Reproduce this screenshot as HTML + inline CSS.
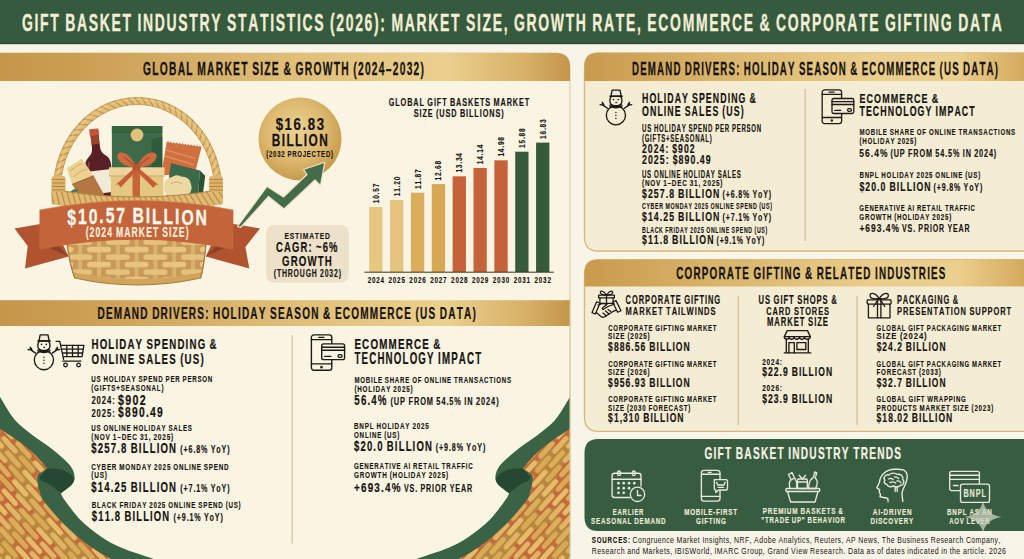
<!DOCTYPE html>
<html><head><meta charset="utf-8"><title>Gift Basket Industry Statistics (2026)</title>
<style>html,body{margin:0;padding:0;background:#f8f4e8;overflow:hidden;}svg{display:block;}
text{font-family:"Liberation Sans",Arial,sans-serif;}</style></head>
<body><svg width="1024" height="559" viewBox="0 0 1024 559">

<defs>
 <linearGradient id="goldband" gradientUnits="userSpaceOnUse" x1="0" x2="570" y1="0" y2="0">
  <stop offset="0" stop-color="#c5964a"/>
  <stop offset="0.15" stop-color="#cc9f55"/>
  <stop offset="0.5" stop-color="#dfbd76"/>
  <stop offset="0.78" stop-color="#ebd08e"/>
  <stop offset="0.92" stop-color="#d8b169"/>
  <stop offset="1" stop-color="#c4954a"/>
 </linearGradient>
 <linearGradient id="goldband2" gradientUnits="userSpaceOnUse" x1="584" x2="1024" y1="0" y2="0">
  <stop offset="0" stop-color="#c99a4e"/>
  <stop offset="0.3" stop-color="#d9b46a"/>
  <stop offset="0.65" stop-color="#eacd8a"/>
  <stop offset="0.85" stop-color="#ebcf8c"/>
  <stop offset="1" stop-color="#d4aa5e"/>
 </linearGradient>
 <radialGradient id="coin" cx="0.45" cy="0.4" r="0.6">
  <stop offset="0" stop-color="#ecd394"/>
  <stop offset="0.6" stop-color="#ddb96f"/>
  <stop offset="1" stop-color="#c69a4c"/>
 </radialGradient>
 <pattern id="weave" width="37.6" height="15" patternUnits="userSpaceOnUse" patternTransform="translate(23.8 245.8)">
  <rect width="37.6" height="15" fill="#c7985a"/>
  <rect x="-2" y="0" width="4" height="15" fill="#d9b36c"/><rect x="16.8" y="0" width="4" height="15" fill="#d9b36c"/><rect x="35.6" y="0" width="4" height="15" fill="#d9b36c"/>
  <rect x="-12" y="1" width="24" height="5.6" rx="2.8" fill="#e8c680"/><rect x="25.6" y="1" width="24" height="5.6" rx="2.8" fill="#e8c680"/>
  <rect x="6.8" y="8.5" width="24" height="5.6" rx="2.8" fill="#e5c27b"/>
 </pattern>
 <pattern id="texture" width="52" height="14" patternUnits="userSpaceOnUse" patternTransform="rotate(48)">
  <rect x="1" y="0.9" width="22" height="5" rx="2.5" fill="#e5bc69"/>
  <rect x="27" y="0.9" width="22" height="5" rx="2.5" fill="#dcae5c"/>
  <rect x="14" y="7.9" width="22" height="5" rx="2.5" fill="#e0b565"/>
  <rect x="40" y="7.9" width="22" height="5" rx="2.5" fill="#d9a956"/>
  <rect x="-12" y="7.9" width="22" height="5" rx="2.5" fill="#d9a956"/>
 </pattern>
</defs>

<rect width="1024" height="559" fill="#f8f4e8"/>
<rect width="1024" height="44" fill="#365a3e"/><rect y="42.6" width="1024" height="1.6" fill="#2c4a33"/>
<text transform="scale(0.5653 1)" x="38.92 61.1 70.93 88.99 107.05 115.4 136.2 157.01 176.46 197.27 216.72 234.77 243.12 252.95 273.76 294.57 315.38 334.83 352.89 373.7 393.14 401.49 420.94 438.99 459.8 477.86 487.69 507.14 525.2 535.03 555.84 575.28 583.63 594.82 611.53 628.24 644.95 661.65 672.85 684.04 692.39 715.94 736.75 757.56 778.36 797.81 815.87 824.22 843.66 853.49 871.55 891 900.83 909.18 931.36 952.17 974.35 1000.64 1018.7 1039.51 1047.86 1068.67 1089.48 1107.53 1126.98 1136.81 1145.16 1164.6 1185.41 1207.6 1231.15 1254.7 1274.14 1294.95 1315.76 1335.21 1343.55 1364.36 1372.71 1393.52 1415.71 1436.52 1455.96 1478.15 1498.96 1519.77 1537.82 1557.27 1565.62 1587.8 1597.63 1615.69 1633.75 1643.58 1664.39 1686.57 1694.92 1715.73 1736.54 1754.6" y="30.70" font-size="24.71" font-weight="bold" fill="#f3eed6" stroke="#f3eed6" stroke-width="0.35">GIFT BASKET INDUSTRY STATISTICS (2026): MARKET SIZE, GROWTH RATE, ECOMMERCE &amp; CORPORATE GIFTING DATA</text>
<path d="M0 53 H556 Q570 53 570 67 V559 H0 Z" fill="#faf4e3"/><path d="M0 53 H556 Q570 53 570 67 V559" fill="none" stroke="#dccaa2" stroke-width="1"/>
<path d="M0 53 H556 Q570 53 570 67 V81 H0 Z" fill="url(#goldband)"/>
<rect x="0" y="300.2" width="570" height="25.8" fill="url(#goldband)"/>
<text transform="scale(0.5661 1)" x="252.59 268.9 282.18 298.49 313.8 329.1 342.37 348.51 365.83 381.13 396.43 411.73 426.03 439.31 445.45 459.74 466.97 480.25 494.55 500.69 515.99 522.13 538.44 553.74 570.05 589.38 602.66 617.96 624.1 632.33 644.61 656.9 669.18 681.47 693.75 706.04 718.32 730.61 742.89" y="75.00" font-size="18.17" font-weight="bold" fill="#16130f" stroke="#16130f" stroke-width="0.26">GLOBAL MARKET SIZE &amp; GROWTH (2024–2032)</text>
<text transform="scale(0.5951 1)" x="163.83 178.03 191.3 207.37 221.57 235.77 249.96 255.66 269.86 284.06 290.77 304.04 317.31 331.5 344.77 352.41 358.11 372.31 387.45 399.77 406.48 420.67 434.87 448.14 453.84 467.11 480.38 494.58 507.85 522.98 537.18 542.88 557.08 562.77 576.04 590.24 605.38 621.45 637.52 650.79 664.99 679.19 692.45 698.15 705.79 719.99 733.26 738.95 753.15 767.35 779.67 793.87" y="319.40" font-size="16.86" font-weight="bold" fill="#16130f" stroke="#16130f" stroke-width="0.24">DEMAND DRIVERS: HOLIDAY SEASON &amp; ECOMMERCE (US DATA)</text>
<path d="M1030 53 H598 Q584.5 53 584.5 67 V237 Q584.5 251 598 251 H1030 Z" fill="#f5ecd4" stroke="#d5b87c" stroke-width="1.3"/>
<path d="M1030 53 H598 Q584.5 53 584.5 67 V81 H1030 Z" fill="url(#goldband2)"/>
<text transform="scale(0.5343 1)" x="1182.8 1198.1 1212.4 1229.72 1245.02 1260.32 1275.62 1281.76 1297.06 1312.36 1319.59 1333.89 1348.19 1363.49 1377.79 1386.02 1392.15 1407.45 1423.77 1437.05 1444.27 1459.57 1474.88 1489.17 1495.31 1509.61 1523.91 1539.21 1553.51 1569.82 1585.12 1591.26 1606.56 1612.7 1627 1642.3 1658.61 1675.93 1693.24 1707.54 1722.84 1738.14 1752.44 1758.58 1766.81 1782.11 1796.41 1802.55 1817.85 1833.15 1846.43 1861.73" y="75.00" font-size="18.17" font-weight="bold" fill="#16130f" stroke="#16130f" stroke-width="0.26">DEMAND DRIVERS: HOLIDAY SEASON &amp; ECOMMERCE (US DATA)</text>
<path d="M1030 259.7 H598 Q584.5 259.7 584.5 273.7 V417.3 Q584.5 431.3 598 431.3 H1030 Z" fill="#f5ecd4" stroke="#d5b87c" stroke-width="1.3"/>
<path d="M1030 259.7 H598 Q584.5 259.7 584.5 273.7 V286.5 H1030 Z" fill="url(#goldband2)"/>
<text transform="scale(0.5710 1)" x="1184.37 1198.94 1214.47 1229.04 1242.65 1258.18 1272.74 1287.31 1299.95 1313.56 1319.41 1334.94 1341.82 1354.46 1367.1 1373.98 1388.55 1404.08 1409.92 1424.49 1430.33 1444.9 1458.51 1471.15 1485.72 1498.36 1511.97 1526.54 1532.38 1539.26 1553.83 1568.39 1582.96 1596.57 1609.21 1623.78 1630.66 1644.27" y="279.40" font-size="17.30" font-weight="bold" fill="#16130f" stroke="#16130f" stroke-width="0.25">CORPORATE GIFTING &amp; RELATED INDUSTRIES</text>
<path d="M1030 439 H598 Q584.5 439 584.5 453 V517 Q584.5 531 598 531 H1030 Z" fill="#385c40"/>
<text transform="scale(0.5964 1)" x="1181.13 1196.4 1203.16 1215.59 1228.02 1233.76 1248.09 1262.41 1275.79 1290.11 1303.5 1315.93 1321.67 1328.44 1342.76 1357.08 1371.4 1384.78 1397.21 1411.53 1424.92 1430.66 1443.09 1457.41 1470.8 1485.12 1499.44" y="458.60" font-size="17.01" font-weight="bold" fill="#f6f3e6" stroke="#f6f3e6" stroke-width="0.24">GIFT BASKET INDUSTRY TRENDS</text>
<text transform="scale(0.6609 1)" x="895.51 902.95 911.43 919.38 927.34 935.3 942.73 950.17" y="543.00" font-size="9.45" font-weight="bold" fill="#16130f" stroke="#16130f" stroke-width="0.13">SOURCES:</text>
<text transform="scale(0.7324 1)" x="863.64 871.02 876.85 882.67 888.49 892.2 898.02 903.84 909.67 914.96 920.78 923.78 932.22 938.04 941.75 947.04 952.86 956.06 959.06 962.25 968.07 973.36 976.03 981.85 987.67 990.86 996.15 999.34 1002.35 1009.74 1017.13 1023.46 1026.66 1029.66 1036.53 1042.35 1048.17 1053.99 1059.81 1062.81 1069.68 1075.5 1081.33 1083.99 1089.28 1092.47 1095.14 1100.43 1105.72 1108.91 1111.92 1119.31 1125.13 1130.95 1134.14 1139.96 1143.67 1148.96 1152.16 1155.16 1162.03 1168.9 1171.9 1179.29 1185.11 1192.5 1197.79 1200.98 1203.98 1210.32 1216.14 1221.96 1224.97 1231.84 1237.66 1242.95 1245.61 1251.43 1257.26 1262.55 1267.84 1270.84 1278.23 1284.05 1289.34 1295.16 1300.98 1304.7 1309.99 1315.81 1318.81 1326.2 1332.02 1340.46 1346.28 1352.1 1357.92 1363.21" y="543.00" font-size="9.45" font-weight="normal" fill="#16130f">Congruence Market Insights, NRF, Adobe Analytics, Reuters, AP News, The Business Research Company,</text>
<text transform="scale(0.7390 1)" x="800.83 808.22 814.04 819.33 825.15 830.97 834.68 839.98 845.8 848.8 854.62 860.44 866.26 869.27 877.7 883.52 887.24 892.53 898.35 901.54 906.83 910.02 913.03 916.22 923.09 926.28 933.15 942.63 948.45 952.16 954.83 960.65 963.84 966.85 970.04 978.47 985.34 992.73 1000.12 1003.13 1011.04 1014.75 1020.58 1026.4 1032.22 1035.41 1038.41 1046.33 1050.04 1055.86 1061.68 1067.5 1070.51 1077.38 1080.04 1085.86 1093.25 1096.26 1103.65 1109.47 1114.76 1120.58 1126.4 1130.11 1135.4 1141.22 1144.42 1147.42 1154.81 1160.63 1163.82 1169.64 1172.65 1178.47 1183.76 1186.76 1192.58 1195.77 1198.78 1204.6 1210.42 1213.61 1219.43 1224.72 1227.72 1230.39 1236.21 1242.03 1244.7 1249.99 1255.81 1259 1264.82 1270.65 1273.65 1276.31 1282.13 1285.14 1288.33 1294.15 1299.97 1302.97 1308.8 1312.51 1315.7 1318.37 1323.66 1326.32 1332.14 1335.34 1338.34 1344.16 1349.98 1355.8" y="553.60" font-size="9.45" font-weight="normal" fill="#16130f">Research and Markets, IBISWorld, IMARC Group, Grand View Research. Data as of dates indicated in the article. 2026</text>
<path d="M57 190 A80.5 89 0 0 1 218 190" fill="none" stroke="#c9984e" stroke-width="8"/>
<path d="M57 190 A80.5 89 0 0 1 218 190" fill="none" stroke="#e2bf78" stroke-width="6.4"/>
<path d="M53.7 192.8L60.3 187.2 M53.8 185.2L60.8 180.1 M54.4 177.6L61.8 173.1 M55.6 170.1L63.3 166.2 M57.4 162.8L65.3 159.4 M59.7 155.6L67.9 152.9 M62.5 148.7L70.9 146.6 M65.8 142.1L74.4 140.6 M69.7 135.7L78.3 134.9 M73.9 129.8L82.6 129.7 M78.7 124.2L87.3 124.8 M83.8 119.1L92.3 120.4 M89.3 114.5L97.7 116.5 M95.1 110.3L103.3 113.1 M101.2 106.7L109.1 110.2 M107.6 103.7L115.2 107.9 M114.2 101.3L121.3 106.1 M120.9 99.5L127.6 105.0 M127.8 98.3L133.9 104.3 M134.7 97.7L140.3 104.3 M141.7 97.8L146.6 104.8 M148.6 98.5L152.9 106.0 M155.5 99.8L159.1 107.7 M162.2 101.7L165.1 109.9 M168.8 104.3L170.9 112.7 M175.1 107.5L176.5 116.0 M181.2 111.2L181.9 119.8 M187.0 115.4L186.9 124.1 M192.4 120.2L191.6 128.8 M197.5 125.5L196.0 134.0 M202.1 131.1L199.9 139.5 M206.3 137.2L203.5 145.4 M210.0 143.7L206.6 151.6 M213.3 150.4L209.2 158.1 M216.0 157.4L211.3 164.8 M218.1 164.7L212.9 171.6 M219.7 172.1L214.1 178.6 M220.8 179.6L214.6 185.7 M221.3 187.2L214.7 192.8" stroke="#c29050" stroke-width="1.2" fill="none" stroke-linecap="round"/>
<path d="M57 190 A80.5 89 0 0 1 218 190" fill="none" stroke="#f0d898" stroke-width="1.2" opacity="0.5" transform="translate(0 -1.5)"/>
<g transform="rotate(-7 98 163.5)"><path d="M94 135 h8 v12 q0 6 4.8 9.5 q4 3 4 9 V201 H85.2 V165.5 q0 -6 4 -9 q4.8 -3.5 4.8 -9.5 z" fill="#5a2028"/><rect x="93.3" y="128.6" width="9.4" height="7" rx="1" fill="#c0553a"/><rect x="94" y="135.5" width="8" height="8.5" fill="#9f432f"/><path d="M89.5 161 q-1.8 3 -1.8 9" stroke="#8a4a4c" stroke-width="1.5" fill="none"/><rect x="86.5" y="170.5" width="24" height="23" fill="#f3ebd9"/></g>
<path d="M66.8 168.3 L81.8 158.7 L93.6 175.8 L72.2 184.4 Z" fill="#ecd291"/>
<path d="M72.2 184.4 L93.6 175.8 L104.4 195.2 L79.7 197.3 Z" fill="#b37743"/>
<path d="M70.5 171 Q77 165 82 163.5 M73.5 177 Q80 171 86.5 169" stroke="#d6b26a" stroke-width="1.2" fill="none"/>
<path d="M72.2 184.4 L93.6 175.8" stroke="#9b5f31" stroke-width="1"/>
<path d="M70 192 q4 -5 9 -2 q-3 5 -9 2z" fill="#4f7a4f"/>
<path d="M111.9 126 h50.4 v72 h-50.4z" fill="#3d6b49"/>
<path d="M111.9 126 h50.4 v6.5 h-50.4z" fill="#37633f"/>
<path d="M111.9 132.5 h50.4" stroke="#2d5437" stroke-width="0.8"/>
<path d="M151.6 139.4 l10.7 -3 v62 h-10.7z" fill="#2f5a3b"/>
<circle cx="137" cy="135" r="6.4" fill="#e3c177"/>
<path d="M166.6 142.6 l1.45 -1.5 l1.45 1.9 l1.45 -1.5 l1.45 1.9 l1.45 -1.5 l1.45 1.9 l1.45 -1.5 l1.45 1.9 l1.45 -1.5 l1.45 1.9 l1.45 -1.5 l1.45 1.9 l1.45 -1.5 l1.45 1.9 l1.45 -1.5 l1.45 1.9 l1.45 -1.5 l1.45 1.9 l1.45 -1.5 l1.45 1.9 l1.45 -1.5 l1.45 1.9 l1.45 -1.5 l1.45 1.9 L194.5 175 L161.2 175 Z" fill="#cf703e"/>
<path d="M166 150 L195 158.5 M164.6 156 L193.6 164.5" stroke="#e49a66" stroke-width="1.2" fill="none"/>
<path d="M170.9 163 L199.9 170.5 L198 196 L166.6 196 Z" fill="#3c6a48"/>
<path d="M199.9 170.5 L205.2 175.8 L203.1 193 L198 196 Z" fill="#2b5235"/>
<path d="M164 187 q0 -9 8 -10 q4 -3 9 -0.5 q9 0 10 8 q2 5 -2 9.5 q-3 4 -9 3.5 q-4 2 -8 -0.5 q-8 -1 -8 -9.5 z" fill="#ecd8a2"/>
<path d="M170.5 184 q6 -4 12 0" stroke="#cdb06e" stroke-width="1" fill="none"/>
<rect x="110.8" y="175.8" width="52.6" height="24" fill="#e5c784"/>
<rect x="109" y="167.3" width="55.5" height="8.8" fill="#edd49a"/>
<path d="M109 176 h55.5" stroke="#caa862" stroke-width="1"/>
<rect x="132.5" y="167.3" width="7.5" height="32.5" fill="#c8643a"/>
<path d="M136.5 167 C128 148 114 150 118.3 159 C120.5 164 128 167.5 136.5 167 Z" fill="#cd6b3e"/>
<path d="M136.5 167 C145 148 160 150 155.9 159 C153.5 164 146 167.5 136.5 167 Z" fill="#cd6b3e"/>
<path d="M124 157 Q129 161 134.5 165.5 M149.5 157 Q144.5 161 138.5 165.5" stroke="#a94f2c" stroke-width="1.3" fill="none"/>
<path d="M135 167.5 L115 185.5 L118 184 L120.5 187.5 L136.5 171 Z M138 167.5 L159 185.5 L156 184.5 L153.5 188 L136.5 171 Z" fill="#c45d35"/>
<ellipse cx="136.5" cy="167.3" rx="4" ry="3.3" fill="#b9532f"/>
<path d="M61 204 H214 L206 244 Q204 270 200.6 276 Q137 290 74.8 276 Q70 266 67 244 Z" fill="#c0904b"/>
<path d="M61 204 H214 L206 244 Q204 270 200.6 276 Q137 290 74.8 276 Q70 266 67 244 Z" fill="url(#weave)"/>
<path d="M72 272 Q137 286 203 272 L200.6 278 Q137 292 74.8 278 Z" fill="#d2a55c"/>
<path d="M67 244 Q70 266 74.8 278 Q137 292 200.6 278 Q204 266 206 244" fill="none" stroke="#a8783a" stroke-width="1.2"/>
<path d="M51.5 189 Q137 205 223 189 L223 204 Q137 218 51.5 204 Z" fill="#dfbb72"/>
<clipPath id="rimc"><path d="M51.5 189 Q137 205 223 189 L223 204 Q137 218 51.5 204 Z"/></clipPath>
<g clip-path="url(#rimc)"><path d="M50.0 188.0L54.0 205.0 M55.6 189.0L59.8 206.0 M61.1 190.0L65.5 206.9 M66.7 190.9L71.3 207.7 M72.3 191.7L77.1 208.5 M77.8 192.4L82.8 209.2 M83.4 193.1L88.6 209.8 M89.0 193.7L94.4 210.3 M94.5 194.3L100.1 210.8 M100.1 194.8L105.9 211.2 M105.7 195.2L111.7 211.6 M111.2 195.5L117.4 211.9 M116.8 195.8L123.2 212.1 M122.4 196.0L129.0 212.2 M127.9 196.2L134.7 212.3 M133.5 196.2L140.5 212.2 M139.1 196.3L146.3 212.2 M144.6 196.2L152.0 212.0 M150.2 196.1L157.8 211.8 M155.8 195.9L163.6 211.5 M161.4 195.6L169.3 211.2 M166.9 195.3L175.1 210.7 M172.5 194.9L180.8 210.2 M178.1 194.4L186.6 209.7 M183.7 193.9L192.3 209.0 M189.2 193.3L198.1 208.3 M194.8 192.6L203.9 207.5 M200.4 191.9L209.6 206.7 M206.0 191.1L215.4 205.8 M211.5 190.2L221.1 204.8 M217.1 189.3L226.9 203.7" stroke="#c08e4c" stroke-width="1.3" fill="none" stroke-linecap="round"/></g>
<path d="M51.5 189 Q137 205 223 189" fill="none" stroke="#b3843f" stroke-width="1"/>
<rect x="51.5" y="176" width="14" height="16" rx="3" fill="#dcb46b"/><path d="M52 179.5 h13 M52 183 h13 M52 186.5 h13 M52 190 h13" stroke="#b3843d" stroke-width="1.1"/>
<rect x="209" y="176" width="14" height="16" rx="3" fill="#dcb46b"/><path d="M209.5 179.5 h13 M209.5 183 h13 M209.5 186.5 h13 M209.5 190 h13" stroke="#b3843d" stroke-width="1.1"/>
<path d="M14.5 228.5 L52 222 L68.6 256.5 L25 268.4 L27.7 246 Z" fill="#b0542f"/>
<path d="M45 246 L68.6 256.5 L52 240 Z" fill="#8f4026"/>
<path d="M260 228.5 L222 222 L205.8 256.5 L249.3 268.4 L245.4 247 Z" fill="#b0542f"/>
<path d="M229 246 L205.8 256.5 L222 240 Z" fill="#8f4026"/>
<path d="M39.5 210 Q137 191 233.3 210 L233.3 249.5 Q137 230 39.5 249.5 Z" fill="#c4643a"/>
<path d="M39.5 210 Q137 191 233.3 210" fill="none" stroke="#d77f52" stroke-width="1" opacity="0.6"/>
<text transform="scale(0.6973 1)" x="96.52 111.85 127.18 142.51 151.53 166.86 182.19 189.85 208.95 217.97 234.54 251.11 260.13 280.49" y="224.59 224.12 223.75 223.48 223.36 223.25 223.23 223.26 223.43 223.57 223.91 224.36 224.65 225.44" font-size="22.67" font-weight="bold" fill="#fdf8ee" stroke="#fdf8ee" stroke-width="0.32">$10.57 BILLION</text>
<text transform="scale(0.6026 1)" x="142.21 148.73 158.46 168.19 177.92 187.65 192.51 206.22 218.34 230.46 242.58 253.9 264.42 269.28 280.6 286.33 296.84 308.17" y="237.40" font-size="14.39" font-weight="bold" fill="#f8eedb" stroke="#f8eedb" stroke-width="0.21">(2024 MARKET SIZE)</text>
<circle cx="300" cy="139" r="41.5" fill="url(#coin)"/>
<text transform="scale(0.8038 1)" x="342.99 354.09 365.2 376.3 382.84 393.94" y="129.80" font-size="16.42" font-weight="bold" fill="#16130f" stroke="#16130f" stroke-width="0.23">$16.83</text>
<text transform="scale(0.6919 1)" x="392.71 407.16 413.98 426.52 439.05 445.87 461.27" y="146.30" font-size="17.15" font-weight="bold" fill="#16130f" stroke="#16130f" stroke-width="0.25">BILLION</text>
<text transform="scale(0.6406 1)" x="415.7 419.98 426.37 432.76 439.15 445.54 448.73 456.16 464.12 472.6 478.99 486.43 494.38 501.29 508.72 516.68" y="156.70" font-size="9.45" font-weight="bold" fill="#16130f" stroke="#16130f" stroke-width="0.13">(2032 PROJECTED)</text>
<path d="M237.5 226.5 L267 186.5 L283.5 197 L307 174.5 L303.5 169.5 L324.8 162.3 L320.5 185.5 L315 180 L284 209 L268.5 196.5 L240.5 227.5 Z" fill="#446c4a" stroke="#efe4c2" stroke-width="1.2" stroke-linejoin="round"/>
<rect x="266" y="225" width="82.8" height="57.5" rx="8" fill="#ede2c9"/>
<text transform="scale(0.6832 1)" x="416.39 424.17 431.95 439.17 443.11 452.52 460.85 468.07 475.85" y="238.80" font-size="9.88" font-weight="bold" fill="#16130f" stroke="#16130f" stroke-width="0.14">ESTIMATED</text>
<text transform="scale(0.6525 1)" x="422.97 435.21 447.45 460.5 472.74 479.33 484.24 494.47 504.3" y="252.50" font-size="14.53" font-weight="bold" fill="#16130f" stroke="#16130f" stroke-width="0.21">CAGR: ~6%</text>
<text transform="scale(0.6647 1)" x="424.25 437.3 449.54 462.59 478.05 488.67" y="266.00" font-size="14.53" font-weight="bold" fill="#16130f" stroke="#16130f" stroke-width="0.21">GROWTH</text>
<text transform="scale(0.6513 1)" x="420.37 425.17 432.93 441.86 450.8 460.33 469.26 478.79 487.72 491.31 498.48 505.66 512.83 520.01" y="277.00" font-size="10.61" font-weight="bold" fill="#16130f" stroke="#16130f" stroke-width="0.15">(THROUGH 2032)</text>
<text transform="scale(0.6452 1)" x="602.47 612.65 620.93 631.11 640.66 650.21 658.5 662.33 672.5 677.01 685.3 693.59 697.42 706.96 716.51 725.43 734.98 743.9 752.19 761.11 764.94 775.75 785.29 794.84 804.39 813.31" y="106.10" font-size="11.34" font-weight="bold" fill="#16130f" stroke="#16130f" stroke-width="0.16">GLOBAL GIFT BASKETS MARKET</text>
<text transform="scale(0.6467 1)" x="639.74 648.66 653.17 661.45 670.38 674.21 679.34 688.89 697.81 707.36 711.19 720.74 725.25 733.53 741.82 746.33 756.51 766.06 774.98" y="117.40" font-size="11.34" font-weight="bold" fill="#16130f" stroke="#16130f" stroke-width="0.16">SIZE (USD BILLIONS)</text>
<rect x="369.20" y="207" width="13.3" height="65.00" fill="#e7c67f"/>
<text transform="translate(378.85,203.30) rotate(-90) scale(0.7536 1)" x="0 5.9 11.79 15.26 21.16" y="0" font-size="8.72" font-weight="bold" fill="#16130f" stroke="#16130f" stroke-width="0.12">10.57</text>
<text transform="scale(0.7157 1)" x="513.69 519.69 525.68 531.68" y="283.40" font-size="8.87" font-weight="bold" fill="#16130f" stroke="#16130f" stroke-width="0.13">2024</text>
<rect x="390.06" y="200" width="13.3" height="72.00" fill="#e6c47d"/>
<text transform="translate(399.71,196.30) rotate(-90) scale(0.7536 1)" x="0 5.9 11.79 15.26 21.16" y="0" font-size="8.72" font-weight="bold" fill="#16130f" stroke="#16130f" stroke-width="0.12">11.20</text>
<text transform="scale(0.7157 1)" x="542.84 548.83 554.83 560.82" y="283.40" font-size="8.87" font-weight="bold" fill="#16130f" stroke="#16130f" stroke-width="0.13">2025</text>
<rect x="410.92" y="192.7" width="13.3" height="79.30" fill="#d9ad5c"/>
<text transform="translate(420.57,189.00) rotate(-90) scale(0.7536 1)" x="0 5.9 11.79 15.26 21.16" y="0" font-size="8.72" font-weight="bold" fill="#16130f" stroke="#16130f" stroke-width="0.12">11.87</text>
<text transform="scale(0.7157 1)" x="571.99 577.98 583.98 589.97" y="283.40" font-size="8.87" font-weight="bold" fill="#16130f" stroke="#16130f" stroke-width="0.13">2026</text>
<rect x="431.78" y="184.1" width="13.3" height="87.90" fill="#d7a853"/>
<text transform="translate(441.43,180.40) rotate(-90) scale(0.7536 1)" x="0 5.9 11.79 15.26 21.16" y="0" font-size="8.72" font-weight="bold" fill="#16130f" stroke="#16130f" stroke-width="0.12">12.68</text>
<text transform="scale(0.7157 1)" x="601.13 607.13 613.12 619.12" y="283.40" font-size="8.87" font-weight="bold" fill="#16130f" stroke="#16130f" stroke-width="0.13">2027</text>
<rect x="452.64" y="176.3" width="13.3" height="95.70" fill="#c6623a"/>
<text transform="translate(462.29,172.60) rotate(-90) scale(0.7536 1)" x="0 5.9 11.79 15.26 21.16" y="0" font-size="8.72" font-weight="bold" fill="#16130f" stroke="#16130f" stroke-width="0.12">13.34</text>
<text transform="scale(0.7157 1)" x="630.28 636.27 642.27 648.26" y="283.40" font-size="8.87" font-weight="bold" fill="#16130f" stroke="#16130f" stroke-width="0.13">2028</text>
<rect x="473.50" y="168" width="13.3" height="104.00" fill="#c6623a"/>
<text transform="translate(483.15,164.30) rotate(-90) scale(0.7536 1)" x="0 5.9 11.79 15.26 21.16" y="0" font-size="8.72" font-weight="bold" fill="#16130f" stroke="#16130f" stroke-width="0.12">14.14</text>
<text transform="scale(0.7157 1)" x="659.42 665.42 671.41 677.41" y="283.40" font-size="8.87" font-weight="bold" fill="#16130f" stroke="#16130f" stroke-width="0.13">2029</text>
<rect x="494.36" y="160.3" width="13.3" height="111.70" fill="#c6623a"/>
<text transform="translate(504.01,156.60) rotate(-90) scale(0.7536 1)" x="0 5.9 11.79 15.26 21.16" y="0" font-size="8.72" font-weight="bold" fill="#16130f" stroke="#16130f" stroke-width="0.12">14.98</text>
<text transform="scale(0.7157 1)" x="688.57 694.57 700.56 706.56" y="283.40" font-size="8.87" font-weight="bold" fill="#16130f" stroke="#16130f" stroke-width="0.13">2030</text>
<rect x="515.22" y="151.7" width="13.3" height="120.30" fill="#355a3c"/>
<text transform="translate(524.87,148.00) rotate(-90) scale(0.7536 1)" x="0 5.9 11.79 15.26 21.16" y="0" font-size="8.72" font-weight="bold" fill="#16130f" stroke="#16130f" stroke-width="0.12">15.88</text>
<text transform="scale(0.7157 1)" x="717.72 723.71 729.71 735.7" y="283.40" font-size="8.87" font-weight="bold" fill="#16130f" stroke="#16130f" stroke-width="0.13">2031</text>
<rect x="536.08" y="142.6" width="13.3" height="129.40" fill="#355a3c"/>
<text transform="translate(545.73,138.90) rotate(-90) scale(0.7536 1)" x="0 5.9 11.79 15.26 21.16" y="0" font-size="8.72" font-weight="bold" fill="#16130f" stroke="#16130f" stroke-width="0.12">16.83</text>
<text transform="scale(0.7157 1)" x="746.86 752.86 758.85 764.85" y="283.40" font-size="8.87" font-weight="bold" fill="#16130f" stroke="#16130f" stroke-width="0.13">2032</text>
<path d="M364.5 272.2 H553.8" stroke="#3a3328" stroke-width="1"/>
<clipPath id="lc"><rect x="0" y="300" width="570" height="259"/></clipPath>
<g clip-path="url(#lc)"><path d="M0.0 428.7 C2.5 430.4 9.9 435.1 14.9 438.6 C19.9 442.1 25.4 446.1 29.8 449.8 C34.1 453.5 38.1 457.9 41.0 461.0 C43.9 464.1 47.0 466.6 47.2 468.4 C47.4 470.2 43.6 470.6 42.0 472.0 C40.4 473.4 37.7 473.8 37.3 477.1 C36.9 480.4 38.7 488.0 39.8 492.0 C40.9 496.0 40.5 496.2 44.0 501.0 C47.5 505.8 54.3 514.1 60.5 520.5 C66.7 526.9 74.6 534.4 81.0 539.6 C87.4 544.9 93.8 548.8 98.8 552.0 C103.8 555.2 109.0 557.8 111.1 559.0 L0 559 Z" fill="#b8873f"/><path d="M0 455 C15 470 22 495 12 520 L0 528 Z" fill="#c4673a" opacity="0.9"/><path d="M10 540 C30 532 55 545 62 559 L20 559 Z" fill="#c4673a" opacity="0.85"/><path d="M0 486 C10 490 28 500 34 512 L26 518 C18 508 8 500 0 498 Z" fill="#c4673a"/><path d="M20 522 C35 528 50 538 58 548 L50 552 C42 542 30 534 18 530 Z" fill="#c4673a"/><path d="M0.0 428.7 C2.5 430.4 9.9 435.1 14.9 438.6 C19.9 442.1 25.4 446.1 29.8 449.8 C34.1 453.5 38.1 457.9 41.0 461.0 C43.9 464.1 47.0 466.6 47.2 468.4 C47.4 470.2 43.6 470.6 42.0 472.0 C40.4 473.4 37.7 473.8 37.3 477.1 C36.9 480.4 38.7 488.0 39.8 492.0 C40.9 496.0 40.5 496.2 44.0 501.0 C47.5 505.8 54.3 514.1 60.5 520.5 C66.7 526.9 74.6 534.4 81.0 539.6 C87.4 544.9 93.8 548.8 98.8 552.0 C103.8 555.2 109.0 557.8 111.1 559.0" fill="none" stroke="#c3673a" stroke-width="12" opacity="0.9"/><path d="M0.0 428.7 C2.5 430.4 9.9 435.1 14.9 438.6 C19.9 442.1 25.4 446.1 29.8 449.8 C34.1 453.5 38.1 457.9 41.0 461.0 C43.9 464.1 47.0 466.6 47.2 468.4 C47.4 470.2 43.6 470.6 42.0 472.0 C40.4 473.4 37.7 473.8 37.3 477.1 C36.9 480.4 38.7 488.0 39.8 492.0 C40.9 496.0 40.5 496.2 44.0 501.0 C47.5 505.8 54.3 514.1 60.5 520.5 C66.7 526.9 74.6 534.4 81.0 539.6 C87.4 544.9 93.8 548.8 98.8 552.0 C103.8 555.2 109.0 557.8 111.1 559.0 L0 559 Z" fill="url(#texture)"/><path d="M0.0 397.0 C2.5 400.8 9.5 413.7 14.9 420.0 C20.3 426.3 26.5 430.3 32.3 434.9 C38.1 439.4 44.3 443.1 49.7 447.3 C55.1 451.5 60.9 456.3 64.6 459.8 C68.3 463.3 70.3 465.7 72.0 468.4 C73.7 471.1 74.3 473.6 74.5 475.9 C74.7 478.2 74.7 479.9 73.3 482.1 C71.9 484.3 68.1 487.1 66.0 489.0 C63.9 490.9 61.8 492.6 60.9 493.3 C61.5 494.4 61.2 495.5 64.6 500.0 C67.9 504.5 74.8 514.4 81.0 520.5 C87.2 526.6 94.7 532.3 101.5 536.9 C108.3 541.5 114.0 544.5 122.0 547.9 C130.0 551.3 144.2 555.5 149.4 557.4 C154.7 559.2 152.8 558.7 153.5 559.0 L111.1 559 C109.0 557.8 103.8 555.2 98.8 552.0 C93.8 548.8 87.4 544.9 81.0 539.6 C74.6 534.4 66.7 526.9 60.5 520.5 C54.3 514.1 47.5 505.8 44.0 501.0 C40.5 496.2 40.9 496.0 39.8 492.0 C38.7 488.0 36.9 480.4 37.3 477.1 C37.7 473.8 40.4 473.4 42.0 472.0 C43.6 470.6 46.3 469.0 47.2 468.4 C46.2 467.2 43.9 464.1 41.0 461.0 C38.1 457.9 34.1 453.5 29.8 449.8 C25.4 446.1 19.9 442.1 14.9 438.6 C9.9 435.1 2.5 430.4 0.0 428.7 Z" fill="#3a6345"/><path d="M47.2 468.4 C49.7 468.6 57.8 468.2 62.1 469.7 C66.5 471.1 71.6 474.6 73.3 477.1 C75.0 479.6 74.1 481.9 72.0 484.6 C69.9 487.3 62.8 491.9 60.9 493.3 C59.0 491.9 53.2 487.1 49.7 484.6 C46.2 482.1 40.2 481.1 39.8 478.4 C39.4 475.7 46.0 470.1 47.2 468.4 Z" fill="#264832"/><g transform="translate(570 0) scale(-1 1)"><path d="M0.0 428.7 C2.5 430.4 9.9 435.1 14.9 438.6 C19.9 442.1 25.4 446.1 29.8 449.8 C34.1 453.5 38.1 457.9 41.0 461.0 C43.9 464.1 47.0 466.6 47.2 468.4 C47.4 470.2 43.6 470.6 42.0 472.0 C40.4 473.4 37.7 473.8 37.3 477.1 C36.9 480.4 38.7 488.0 39.8 492.0 C40.9 496.0 40.5 496.2 44.0 501.0 C47.5 505.8 54.3 514.1 60.5 520.5 C66.7 526.9 74.6 534.4 81.0 539.6 C87.4 544.9 93.8 548.8 98.8 552.0 C103.8 555.2 109.0 557.8 111.1 559.0 L0 559 Z" fill="#b8873f"/><path d="M0 455 C15 470 22 495 12 520 L0 528 Z" fill="#c4673a" opacity="0.9"/><path d="M10 540 C30 532 55 545 62 559 L20 559 Z" fill="#c4673a" opacity="0.85"/><path d="M0 486 C10 490 28 500 34 512 L26 518 C18 508 8 500 0 498 Z" fill="#c4673a"/><path d="M20 522 C35 528 50 538 58 548 L50 552 C42 542 30 534 18 530 Z" fill="#c4673a"/><path d="M0.0 428.7 C2.5 430.4 9.9 435.1 14.9 438.6 C19.9 442.1 25.4 446.1 29.8 449.8 C34.1 453.5 38.1 457.9 41.0 461.0 C43.9 464.1 47.0 466.6 47.2 468.4 C47.4 470.2 43.6 470.6 42.0 472.0 C40.4 473.4 37.7 473.8 37.3 477.1 C36.9 480.4 38.7 488.0 39.8 492.0 C40.9 496.0 40.5 496.2 44.0 501.0 C47.5 505.8 54.3 514.1 60.5 520.5 C66.7 526.9 74.6 534.4 81.0 539.6 C87.4 544.9 93.8 548.8 98.8 552.0 C103.8 555.2 109.0 557.8 111.1 559.0" fill="none" stroke="#c3673a" stroke-width="12" opacity="0.9"/><path d="M0.0 428.7 C2.5 430.4 9.9 435.1 14.9 438.6 C19.9 442.1 25.4 446.1 29.8 449.8 C34.1 453.5 38.1 457.9 41.0 461.0 C43.9 464.1 47.0 466.6 47.2 468.4 C47.4 470.2 43.6 470.6 42.0 472.0 C40.4 473.4 37.7 473.8 37.3 477.1 C36.9 480.4 38.7 488.0 39.8 492.0 C40.9 496.0 40.5 496.2 44.0 501.0 C47.5 505.8 54.3 514.1 60.5 520.5 C66.7 526.9 74.6 534.4 81.0 539.6 C87.4 544.9 93.8 548.8 98.8 552.0 C103.8 555.2 109.0 557.8 111.1 559.0 L0 559 Z" fill="url(#texture)"/><path d="M0.0 397.0 C2.5 400.8 9.5 413.7 14.9 420.0 C20.3 426.3 26.5 430.3 32.3 434.9 C38.1 439.4 44.3 443.1 49.7 447.3 C55.1 451.5 60.9 456.3 64.6 459.8 C68.3 463.3 70.3 465.7 72.0 468.4 C73.7 471.1 74.3 473.6 74.5 475.9 C74.7 478.2 74.7 479.9 73.3 482.1 C71.9 484.3 68.1 487.1 66.0 489.0 C63.9 490.9 61.8 492.6 60.9 493.3 C61.5 494.4 61.2 495.5 64.6 500.0 C67.9 504.5 74.8 514.4 81.0 520.5 C87.2 526.6 94.7 532.3 101.5 536.9 C108.3 541.5 114.0 544.5 122.0 547.9 C130.0 551.3 144.2 555.5 149.4 557.4 C154.7 559.2 152.8 558.7 153.5 559.0 L111.1 559 C109.0 557.8 103.8 555.2 98.8 552.0 C93.8 548.8 87.4 544.9 81.0 539.6 C74.6 534.4 66.7 526.9 60.5 520.5 C54.3 514.1 47.5 505.8 44.0 501.0 C40.5 496.2 40.9 496.0 39.8 492.0 C38.7 488.0 36.9 480.4 37.3 477.1 C37.7 473.8 40.4 473.4 42.0 472.0 C43.6 470.6 46.3 469.0 47.2 468.4 C46.2 467.2 43.9 464.1 41.0 461.0 C38.1 457.9 34.1 453.5 29.8 449.8 C25.4 446.1 19.9 442.1 14.9 438.6 C9.9 435.1 2.5 430.4 0.0 428.7 Z" fill="#3a6345"/><path d="M47.2 468.4 C49.7 468.6 57.8 468.2 62.1 469.7 C66.5 471.1 71.6 474.6 73.3 477.1 C75.0 479.6 74.1 481.9 72.0 484.6 C69.9 487.3 62.8 491.9 60.9 493.3 C59.0 491.9 53.2 487.1 49.7 484.6 C46.2 482.1 40.2 481.1 39.8 478.4 C39.4 475.7 46.0 470.1 47.2 468.4 Z" fill="#264832"/></g></g>
<path d="M292.2 335 V543.4" stroke="#d2bf96" stroke-width="1.2"/>
<text transform="scale(0.6661 1)" x="137.36 149.6 162.65 173.28 179.06 191.3 203.54 214.98 219.89 231.33 242.77 254.21 266.45 278.69 284.47 296.71 309.76 314.67" y="349.10" font-size="14.53" font-weight="bold" fill="#16130f" stroke="#16130f" stroke-width="0.21">HOLIDAY SPENDING &amp;</text>
<text transform="scale(0.6442 1)" x="142.05 155.62 168.35 179.4 185.41 198.14 210.04 215.14 227.04 239.77 250.82 262.71 274.61 279.72 286.57 299.3 311.19" y="363.70" font-size="15.12" font-weight="bold" fill="#16130f" stroke="#16130f" stroke-width="0.22">ONLINE SALES (US)</text>
<text transform="scale(0.6533 1)" x="139.76 147.71 155.15 158.34 166.3 174.78 181.69 185.44 193.4 201.36 208.79 211.98 219.42 226.85 234.29 242.25 250.2 253.4 260.83 268.27 276.22 279.41 286.85 294.28 302.24 309.68 318.16" y="382.00" font-size="9.45" font-weight="bold" fill="#16130f" stroke="#16130f" stroke-width="0.13">US HOLIDAY SPEND PER PERSON</text>
<text transform="scale(0.6516 1)" x="140.12 144.46 153.08 156.89 163.9 170.91 178.46 185.22 192.77 200.32 208.4 215.95 224.56 232.64 240.72 247.73" y="391.30" font-size="9.59" font-weight="bold" fill="#16130f" stroke="#16130f" stroke-width="0.14">(GIFTS+SEASONAL)</text>
<text transform="scale(0.7260 1)" x="125.89 133.07 140.24 147.42 154.59" y="404.20" font-size="10.61" font-weight="bold" fill="#16130f" stroke="#16130f" stroke-width="0.15">2024:</text>
<text transform="scale(0.7762 1)" x="152.02 161.36 170.7 180.03" y="404.60" font-size="13.81" font-weight="bold" fill="#16130f" stroke="#16130f" stroke-width="0.20">$902</text>
<text transform="scale(0.7260 1)" x="125.89 133.07 140.24 147.42 154.59" y="416.80" font-size="10.61" font-weight="bold" fill="#16130f" stroke="#16130f" stroke-width="0.15">2025:</text>
<text transform="scale(0.7468 1)" x="158 167.34 176.67 186.01 195.35 200.84 210.18" y="417.10" font-size="13.81" font-weight="bold" fill="#16130f" stroke="#16130f" stroke-width="0.20">$890.49</text>
<text transform="scale(0.6442 1)" x="141.72 149.8 157.35 160.59 169.2 177.28 184.29 188.11 196.19 203.74 206.98 215.06 223.67 230.68 234.5 242.58 250.66 258.21 261.45 269 277.08 284.09 291.64" y="431.40" font-size="9.59" font-weight="bold" fill="#16130f" stroke="#16130f" stroke-width="0.14">US ONLINE HOLIDAY SALES</text>
<text transform="scale(0.6773 1)" x="134.8 139.14 147.22 155.84 163.39 166.63 173.11 179.6 187.68 195.23 203.31 206.55 213.03 219.52 223.34 226.58 233.06 239.55 246.04 252.52" y="440.20" font-size="9.59" font-weight="bold" fill="#16130f" stroke="#16130f" stroke-width="0.14">(NOV 1–DEC 31, 2025)</text>
<text transform="scale(0.6222 1)" x="146.74 157.16 167.58 177.99 188.41 194.54 204.96 210.16 223.14 229.27 240.53 251.79 257.92 271.75" y="453.50" font-size="15.41" font-weight="bold" fill="#16130f" stroke="#16130f" stroke-width="0.22">$257.8 BILLION</text>
<text transform="scale(0.6835 1)" x="263.78 268.52 275.88 282.96 287.12 294.2 304.76 308.3 316.53 324.18 332.42" y="453.50" font-size="10.47" font-weight="bold" fill="#16130f" stroke="#16130f" stroke-width="0.15">(+6.8% YoY)</text>
<text transform="scale(0.6389 1)" x="142.91 151.23 159.01 167.33 175.11 183.44 186.78 196.19 205.07 213.39 221.72 230.04 237.82 241.16 247.84 254.52 261.21 267.89 271.23 280.1 288.43 295.65 299.58 307.91 315.68 319.02 326.8 334.58 342.36 350.68" y="469.80" font-size="9.88" font-weight="bold" fill="#16130f" stroke="#16130f" stroke-width="0.14">CYBER MONDAY 2025 ONLINE SPEND</text>
<text transform="scale(0.6776 1)" x="134.73 139.08 147.16 154.71" y="478.30" font-size="9.59" font-weight="bold" fill="#16130f" stroke="#16130f" stroke-width="0.14">(US)</text>
<text transform="scale(0.6222 1)" x="146.74 157.16 167.58 177.99 184.12 194.54 204.96 210.16 223.14 229.27 240.53 251.79 257.92 271.75" y="492.00" font-size="15.41" font-weight="bold" fill="#16130f" stroke="#16130f" stroke-width="0.22">$14.25 BILLION</text>
<text transform="scale(0.6835 1)" x="263.78 268.52 275.88 282.96 287.12 294.2 304.76 308.3 316.53 324.18 332.42" y="492.00" font-size="10.47" font-weight="bold" fill="#16130f" stroke="#16130f" stroke-width="0.15">(+7.1% YoY)</text>
<text transform="scale(0.6596 1)" x="139.17 147.13 154.04 161.99 169.95 177.91 181.1 188 195.96 199.72 207.67 215.63 223.07 226.26 232.65 239.03 245.42 251.81 255 263.48 271.44 278.34 282.1 290.06 297.5 300.69 308.12 315.56 322.99 330.95 338.91 342.1 346.38 354.33 361.77" y="508.00" font-size="9.45" font-weight="bold" fill="#16130f" stroke="#16130f" stroke-width="0.13">BLACK FRIDAY 2025 ONLINE SPEND (US)</text>
<text transform="scale(0.6870 1)" x="133.63 142.97 152.3 161.64 167.13 176.47 181.13 192.76 198.26 208.35 218.44 223.93 236.33" y="521.30" font-size="13.81" font-weight="bold" fill="#16130f" stroke="#16130f" stroke-width="0.20">$11.8 BILLION</text>
<text transform="scale(0.6849 1)" x="253.31 258.06 265.42 272.5 276.66 283.74 294.3 297.83 306.07 313.72 321.95" y="521.30" font-size="10.47" font-weight="bold" fill="#16130f" stroke="#16130f" stroke-width="0.15">(+9.1% YoY)</text>
<text transform="scale(0.7125 1)" x="497.39 508.25 519.88 532.28 545.44 558.6 569.46 581.09 592.72 603.59 608.25" y="348.80" font-size="13.81" font-weight="bold" fill="#16130f" stroke="#16130f" stroke-width="0.20">ECOMMERCE &amp;</text>
<text transform="scale(0.5724 1)" x="619.17 631.59 644.98 659.3 673.62 687.94 703.21 715.64 730.91 746.18 759.56 765.3 772.07 788.28 801.66 815.98 830.3" y="364.00" font-size="17.01" font-weight="bold" fill="#16130f" stroke="#16130f" stroke-width="0.24">TECHNOLOGY IMPACT</text>
<text transform="scale(0.6940 1)" x="510.69 519.14 527.1 534.56 538.09 544.57 551.55 554.54 561.52 568.99 576.46 583.92 590.9 593.9 601.86 608.34 611.33 619.29 626.76 633.24 636.77 644.23 651.21 654.21 660.69 668.15 675.62 683.09 690.06 697.53 705 711.48 715.01 722.97 730.43" y="382.60" font-size="8.87" font-weight="bold" fill="#16130f" stroke="#16130f" stroke-width="0.13">MOBILE SHARE OF ONLINE TRANSACTIONS</text>
<text transform="scale(0.6932 1)" x="511.23 515.38 523.09 531.32 538.01 541.65 549.36 557.07 564.28 567.37 573.57 579.76 585.95 592.14" y="391.60" font-size="9.16" font-weight="bold" fill="#16130f" stroke="#16130f" stroke-width="0.13">(HOLIDAY 2025)</text>
<text transform="scale(0.6661 1)" x="532.01 541.84 551.67 557.45 567.28" y="404.70" font-size="14.53" font-weight="bold" fill="#16130f" stroke="#16130f" stroke-width="0.21">56.4%</text>
<text transform="scale(0.6806 1)" x="573.77 578.71 587.89 596.47 600.15 608.12 617.3 627.09 637.48 641.16 648.53 655.9 660.24 667.61 678.61 682.29 686.63 695.81 699.49 706.87 714.24 721.61 728.98" y="404.70" font-size="10.90" font-weight="bold" fill="#16130f" stroke="#16130f" stroke-width="0.16">(UP FROM 54.5% IN 2024)</text>
<text transform="scale(0.6708 1)" x="527.71 535.67 543.62 551.06 557.96 561.15 569.11 577.59 584.5 588.26 596.21 604.17 611.6 614.8 621.18 627.57 633.96" y="429.10" font-size="9.45" font-weight="bold" fill="#16130f" stroke="#16130f" stroke-width="0.13">BNPL HOLIDAY 2025</text>
<text transform="scale(0.6613 1)" x="535.33 543.81 551.77 558.67 562.43 570.39 577.82 581.01 585.29 593.25 600.69" y="437.90" font-size="9.45" font-weight="bold" fill="#16130f" stroke="#16130f" stroke-width="0.13">ONLINE (US)</text>
<text transform="scale(0.6702 1)" x="528.17 537.8 547.43 557.06 562.73 572.36 577.17 589.17 594.84 605.25 615.66 621.32 634.11" y="451.20" font-size="14.24" font-weight="bold" fill="#16130f" stroke="#16130f" stroke-width="0.20">$20.0 BILLION</text>
<text transform="scale(0.6863 1)" x="634.99 639.73 647.1 654.18 658.34 665.42 675.98 679.51 687.75 695.4 703.63" y="451.20" font-size="10.47" font-weight="bold" fill="#16130f" stroke="#16130f" stroke-width="0.15">(+9.8% YoY)</text>
<text transform="scale(0.6510 1)" x="543.75 552.23 559.66 567.62 575.06 583.01 590.97 597.87 601.63 609.07 616.5 619.7 627.65 631.41 634.6 642.56 649.99 656.9 664.86 668.61 675.52 678.71 685.62 693.57 701.53 708.43 715.34 719.1" y="469.30" font-size="9.45" font-weight="bold" fill="#16130f" stroke="#16130f" stroke-width="0.13">GENERATIVE AI RETAIL TRAFFIC</text>
<text transform="scale(0.6738 1)" x="525.34 533.82 541.78 550.26 560.31 567.22 575.18 578.37 582.65 590.6 599.09 605.99 609.75 617.71 625.66 633.1 636.29 642.68 649.07 655.45 661.84" y="478.40" font-size="9.45" font-weight="bold" fill="#16130f" stroke="#16130f" stroke-width="0.13">GROWTH (HOLIDAY 2025)</text>
<text transform="scale(0.7326 1)" x="483.19 492.71 501.85 510.99 520.13 525.51 534.65" y="491.90" font-size="13.52" font-weight="bold" fill="#16130f" stroke="#16130f" stroke-width="0.19">+693.4%</text>
<text transform="scale(0.6628 1)" x="609.54 618 626.47 630.75 634.38 642.85 651.9 656.18 665.84 674.9 678.53 687 695.46 704.52" y="491.90" font-size="10.76" font-weight="bold" fill="#16130f" stroke="#16130f" stroke-width="0.15">VS. PRIOR YEAR</text>
<path d="M570 300 V559" stroke="#dccaa2" stroke-width="1"/>
<text transform="scale(0.6247 1)" x="1027.7 1039.58 1052.23 1062.54 1068.15 1080.02 1091.89 1102.99 1107.75 1118.85 1129.94 1141.04 1152.91 1164.79 1170.4 1182.27 1194.93 1199.69" y="103.00" font-size="14.10" font-weight="bold" fill="#16130f" stroke="#16130f" stroke-width="0.20">HOLIDAY SPENDING &amp;</text>
<text transform="scale(0.6128 1)" x="1047.71 1060.63 1072.75 1083.27 1088.99 1101.11 1112.44 1117.3 1128.62 1140.74 1151.26 1162.58 1173.91 1178.77 1185.28 1197.4 1208.73" y="115.90" font-size="14.39" font-weight="bold" fill="#16130f" stroke="#16130f" stroke-width="0.21">ONLINE SALES (US)</text>
<text transform="scale(0.5810 1)" x="1105.02 1113.83 1122.07 1125.6 1134.42 1143.81 1151.46 1155.63 1164.44 1173.25 1181.49 1185.02 1193.26 1201.5 1209.73 1218.55 1227.36 1230.89 1239.13 1247.37 1256.18 1259.72 1267.95 1276.19 1285 1293.24 1302.63" y="132.20" font-size="10.47" font-weight="bold" fill="#16130f" stroke="#16130f" stroke-width="0.15">US HOLIDAY SPEND PER PERSON</text>
<text transform="scale(0.5774 1)" x="1111.8 1116.54 1125.93 1130.1 1137.75 1145.39 1153.63 1161 1169.23 1177.47 1186.28 1194.52 1203.91 1212.73 1221.54 1229.19" y="142.30" font-size="10.47" font-weight="bold" fill="#16130f" stroke="#16130f" stroke-width="0.15">(GIFTS+SEASONAL)</text>
<text transform="scale(0.7259 1)" x="884.45 892.51 900.57 908.63 916.69 922.09 926.11 934.17 942.23 950.29" y="152.60" font-size="11.92" font-weight="bold" fill="#16130f" stroke="#16130f" stroke-width="0.17">2024: $902</text>
<text transform="scale(0.7186 1)" x="893.38 901.63 909.89 918.14 926.4 931.93 936.06 944.31 952.57 960.82 969.08 973.93 982.19" y="163.80" font-size="12.21" font-weight="bold" fill="#16130f" stroke="#16130f" stroke-width="0.17">2025: $890.49</text>
<text transform="scale(0.6046 1)" x="1061.89 1070.34 1078.23 1081.62 1090.62 1099.07 1106.4 1110.39 1118.84 1126.73 1130.12 1138.56 1147.57 1154.9 1158.89 1167.33 1175.78 1183.67 1187.06 1194.95 1203.4 1210.73 1218.62" y="177.80" font-size="10.03" font-weight="bold" fill="#16130f" stroke="#16130f" stroke-width="0.14">US ONLINE HOLIDAY SALES</text>
<text transform="scale(0.6558 1)" x="978.96 983.37 991.57 1000.32 1007.98 1011.27 1017.86 1024.44 1032.64 1040.31 1048.51 1051.8 1058.38 1064.97 1068.84 1072.13 1078.72 1085.3 1091.89 1098.47" y="186.40" font-size="9.74" font-weight="bold" fill="#16130f" stroke="#16130f" stroke-width="0.14">(NOV 1–DEC 31, 2025)</text>
<text transform="scale(0.6688 1)" x="959.96 968.81 977.65 986.5 995.34 1000.55 1009.39 1013.81 1024.83 1030.03 1039.59 1049.15 1054.36 1066.1" y="198.20" font-size="13.08" font-weight="bold" fill="#16130f" stroke="#16130f" stroke-width="0.19">$257.8 BILLION</text>
<text transform="scale(0.6917 1)" x="1044.6 1049.21 1056.37 1063.25 1067.3 1074.18 1084.44 1087.88 1095.89 1103.32 1111.33" y="198.20" font-size="10.17" font-weight="bold" fill="#16130f" stroke="#16130f" stroke-width="0.15">(+6.8% YoY)</text>
<text transform="scale(0.6158 1)" x="1042.54 1049.76 1056.51 1063.73 1070.48 1077.7 1080.6 1088.77 1096.47 1103.69 1110.91 1118.13 1124.88 1127.78 1133.58 1139.38 1145.18 1150.97 1153.87 1161.57 1168.79 1175.06 1178.47 1185.69 1192.44 1195.34 1202.09 1208.84 1215.59 1222.81 1230.03 1232.93 1236.81 1244.04 1250.78" y="209.40" font-size="8.58" font-weight="bold" fill="#16130f" stroke="#16130f" stroke-width="0.12">CYBER MONDAY 2025 ONLINE SPEND (US)</text>
<text transform="scale(0.6688 1)" x="959.96 968.81 977.65 986.5 991.7 1000.55 1009.39 1013.81 1024.83 1030.03 1039.59 1049.15 1054.36 1066.1" y="221.20" font-size="13.08" font-weight="bold" fill="#16130f" stroke="#16130f" stroke-width="0.19">$14.25 BILLION</text>
<text transform="scale(0.6917 1)" x="1044.6 1049.21 1056.37 1063.25 1067.3 1074.18 1084.44 1087.88 1095.89 1103.32 1111.33" y="221.20" font-size="10.17" font-weight="bold" fill="#16130f" stroke="#16130f" stroke-width="0.15">(+7.1% YoY)</text>
<text transform="scale(0.6110 1)" x="1050.7 1057.93 1064.19 1071.42 1078.64 1085.86 1088.76 1095.02 1102.25 1105.66 1112.88 1120.1 1126.85 1129.75 1135.55 1141.35 1147.14 1152.94 1155.84 1163.54 1170.76 1177.03 1180.44 1187.66 1194.41 1197.31 1204.06 1210.81 1217.56 1224.78 1232 1234.9 1238.78 1246 1252.75" y="233.10" font-size="8.58" font-weight="bold" fill="#16130f" stroke="#16130f" stroke-width="0.12">BLACK FRIDAY 2025 ONLINE SPEND (US)</text>
<text transform="scale(0.7010 1)" x="915.82 924.27 932.72 941.17 946.15 954.6 958.82 969.35 974.32 983.46 992.59 997.57 1008.79" y="244.00" font-size="12.50" font-weight="bold" fill="#16130f" stroke="#16130f" stroke-width="0.18">$11.8 BILLION</text>
<text transform="scale(0.6831 1)" x="1048.9 1053.51 1060.67 1067.55 1071.6 1078.48 1088.74 1092.18 1100.19 1107.63 1115.63" y="244.00" font-size="10.17" font-weight="bold" fill="#16130f" stroke="#16130f" stroke-width="0.15">(+9.1% YoY)</text>
<path d="M805.2 89 V241" stroke="#cdb88c" stroke-width="1.1"/>
<text transform="scale(0.6808 1)" x="1262.38 1272.79 1283.93 1295.8 1308.41 1321.01 1331.42 1342.56 1353.7 1364.11 1368.58" y="102.80" font-size="13.23" font-weight="bold" fill="#16130f" stroke="#16130f" stroke-width="0.19">ECOMMERCE &amp;</text>
<text transform="scale(0.6278 1)" x="1368.94 1379.24 1390.34 1402.21 1414.09 1425.96 1438.62 1448.92 1461.58 1474.24 1485.33 1490.1 1495.71 1509.14 1520.24 1532.11 1543.99" y="116.50" font-size="14.10" font-weight="bold" fill="#16130f" stroke="#16130f" stroke-width="0.20">TECHNOLOGY IMPACT</text>
<text transform="scale(0.6286 1)" x="1367.18 1376.46 1385.21 1393.41 1397.28 1404.4 1412.06 1415.35 1423.02 1431.22 1439.42 1447.62 1455.28 1458.57 1467.32 1474.43 1477.72 1486.47 1494.67 1501.79 1505.66 1513.86 1521.53 1524.82 1531.93 1540.14 1548.34 1556.54 1564.2 1572.4 1580.6 1587.72 1591.6 1600.34 1608.54" y="134.80" font-size="9.74" font-weight="bold" fill="#16130f" stroke="#16130f" stroke-width="0.14">MOBILE SHARE OF ONLINE TRANSACTIONS</text>
<text transform="scale(0.6373 1)" x="1348.55 1352.96 1361.16 1369.91 1377.02 1380.9 1389.1 1397.3 1404.96 1408.25 1414.84 1421.42 1428.01 1434.59" y="143.90" font-size="9.74" font-weight="bold" fill="#16130f" stroke="#16130f" stroke-width="0.14">(HOLIDAY 2025)</text>
<text transform="scale(0.7476 1)" x="1149.52 1157.19 1164.85 1169.36 1177.03" y="157.00" font-size="11.34" font-weight="bold" fill="#16130f" stroke="#16130f" stroke-width="0.16">56.4%</text>
<text transform="scale(0.7240 1)" x="1229.93 1234.48 1242.92 1250.82 1254.2 1261.53 1269.98 1278.98 1288.54 1291.93 1298.71 1305.49 1309.48 1316.26 1326.38 1329.77 1333.76 1342.21 1345.6 1352.38 1359.16 1365.94 1372.72" y="157.00" font-size="10.03" font-weight="bold" fill="#16130f" stroke="#16130f" stroke-width="0.14">(UP FROM 54.5% IN 2024)</text>
<text transform="scale(0.6358 1)" x="1351.76 1359.96 1368.16 1375.82 1382.94 1386.23 1394.43 1403.17 1410.29 1414.17 1422.37 1430.57 1438.23 1441.52 1448.11 1454.69 1461.28 1467.86 1471.15 1479.89 1488.1 1495.21 1499.09 1507.29 1514.95 1518.24 1522.65 1530.86 1538.52" y="178.00" font-size="9.74" font-weight="bold" fill="#16130f" stroke="#16130f" stroke-width="0.14">BNPL HOLIDAY 2025 ONLINE (US)</text>
<text transform="scale(0.7063 1)" x="1216.79 1225.14 1233.5 1241.85 1246.77 1255.12 1259.29 1269.7 1274.61 1283.64 1292.67 1297.59 1308.68" y="191.10" font-size="12.35" font-weight="bold" fill="#16130f" stroke="#16130f" stroke-width="0.18">$20.0 BILLION</text>
<text transform="scale(0.7060 1)" x="1322.2 1326.75 1333.81 1340.59 1344.58 1351.36 1361.48 1364.87 1372.76 1380.09 1387.98" y="191.10" font-size="10.03" font-weight="bold" fill="#16130f" stroke="#16130f" stroke-width="0.14">(+9.8% YoY)</text>
<text transform="scale(0.6156 1)" x="1395.97 1404.72 1412.38 1420.58 1428.25 1436.45 1444.65 1451.77 1455.64 1463.31 1470.97 1474.26 1482.46 1486.33 1489.62 1497.83 1505.49 1512.61 1520.81 1524.68 1531.8 1535.09 1542.21 1550.41 1558.61 1565.73 1572.84 1576.72" y="210.90" font-size="9.74" font-weight="bold" fill="#16130f" stroke="#16130f" stroke-width="0.14">GENERATIVE AI RETAIL TRAFFIC</text>
<text transform="scale(0.6384 1)" x="1346.08 1354.82 1363.02 1371.77 1382.13 1389.24 1397.44 1400.73 1405.15 1413.35 1422.09 1429.21 1433.08 1441.28 1449.48 1457.15 1460.44 1467.02 1473.61 1480.19 1486.78" y="220.00" font-size="9.74" font-weight="bold" fill="#16130f" stroke="#16130f" stroke-width="0.14">GROWTH (HOLIDAY 2025)</text>
<text transform="scale(0.7635 1)" x="1125.64 1133.42 1140.89 1148.36 1155.83 1160.22 1167.69" y="232.20" font-size="11.05" font-weight="bold" fill="#16130f" stroke="#16130f" stroke-width="0.16">+693.4%</text>
<text transform="scale(0.7046 1)" x="1280.23 1288.12 1296.01 1300 1303.39 1311.29 1319.73 1323.72 1332.73 1341.17 1344.56 1352.45 1360.35 1368.79" y="232.20" font-size="10.03" font-weight="bold" fill="#16130f" stroke="#16130f" stroke-width="0.14">VS. PRIOR YEAR</text>
<path d="M738.3 295.7 V425" stroke="#cdb88c" stroke-width="1.1"/>
<path d="M857.1 295.7 V425" stroke="#cdb88c" stroke-width="1.1"/>
<text transform="scale(0.6158 1)" x="1015.92 1026.2 1037.16 1047.44 1057.05 1068.01 1078.3 1088.58 1097.5 1107.11 1111.24 1122.2 1127.05 1135.98 1144.9 1149.76 1160.04" y="304.10" font-size="12.21" font-weight="bold" fill="#16130f" stroke="#16130f" stroke-width="0.17">CORPORATE GIFTING</text>
<text transform="scale(0.6692 1)" x="934.88 945.69 955.24 964.79 974.33 983.26 991.54 995.37 1003.66 1013.2 1017.72 1026 1038.06 1042.57 1052.12 1061.67" y="315.40" font-size="11.34" font-weight="bold" fill="#16130f" stroke="#16130f" stroke-width="0.16">MARKET TAILWINDS</text>
<text transform="scale(0.6398 1)" x="950.5 958.45 966.93 974.89 982.33 990.81 998.77 1006.72 1013.63 1021.06 1024.25 1032.74 1036.49 1043.4 1050.3 1054.06 1062.02 1070.5 1073.69 1082.7 1090.65 1098.61 1106.57 1114" y="331.00" font-size="9.45" font-weight="bold" fill="#16130f" stroke="#16130f" stroke-width="0.13">CORPORATE GIFTING MARKET</text>
<text transform="scale(0.7825 1)" x="777.09 783.49 786.73 792.68 799.09 801.84 805.52 811.03 816.53 822.03 827.54" y="339.50" font-size="8.14" font-weight="bold" fill="#16130f" stroke="#16130f" stroke-width="0.12">SIZE (2025)</text>
<text transform="scale(0.6715 1)" x="905.56 914.21 922.85 931.5 940.15 945.24 953.89 962.54 966.86 977.63 982.72 992.07 1001.41 1006.5 1017.99" y="351.40" font-size="12.79" font-weight="bold" fill="#16130f" stroke="#16130f" stroke-width="0.18">$886.56 BILLION</text>
<text transform="scale(0.6398 1)" x="950.5 958.45 966.93 974.89 982.33 990.81 998.77 1006.72 1013.63 1021.06 1024.25 1032.74 1036.49 1043.4 1050.3 1054.06 1062.02 1070.5 1073.69 1082.7 1090.65 1098.61 1106.57 1114" y="366.70" font-size="9.45" font-weight="bold" fill="#16130f" stroke="#16130f" stroke-width="0.13">CORPORATE GIFTING MARKET</text>
<text transform="scale(0.7825 1)" x="777.09 783.49 786.73 792.68 799.09 801.84 805.52 811.03 816.53 822.03 827.54" y="374.90" font-size="8.14" font-weight="bold" fill="#16130f" stroke="#16130f" stroke-width="0.12">SIZE (2026)</text>
<text transform="scale(0.6715 1)" x="905.56 914.21 922.85 931.5 940.15 945.24 953.89 962.54 966.86 977.63 982.72 992.07 1001.41 1006.5 1017.99" y="386.80" font-size="12.79" font-weight="bold" fill="#16130f" stroke="#16130f" stroke-width="0.18">$956.93 BILLION</text>
<text transform="scale(0.6398 1)" x="950.5 958.45 966.93 974.89 982.33 990.81 998.77 1006.72 1013.63 1021.06 1024.25 1032.74 1036.49 1043.4 1050.3 1054.06 1062.02 1070.5 1073.69 1082.7 1090.65 1098.61 1106.57 1114" y="402.00" font-size="9.45" font-weight="bold" fill="#16130f" stroke="#16130f" stroke-width="0.13">CORPORATE GIFTING MARKET</text>
<text transform="scale(0.7586 1)" x="801.63 808.03 811.27 817.22 823.63 826.38 830.06 835.57 841.07 846.57 852.08 854.83 860.78 868.08 874.94 881.34 888.2 895.05 901.46 907.41" y="410.60" font-size="8.14" font-weight="bold" fill="#16130f" stroke="#16130f" stroke-width="0.12">SIZE (2030 FORECAST)</text>
<text transform="scale(0.6672 1)" x="911.47 920.12 928.77 933.86 942.51 951.15 959.8 964.12 974.9 979.98 989.33 998.68 1003.77 1015.25" y="422.40" font-size="12.79" font-weight="bold" fill="#16130f" stroke="#16130f" stroke-width="0.18">$1,310 BILLION</text>
<text transform="scale(0.6199 1)" x="1223.5 1233.9 1243.62 1247.8 1258.89 1263.81 1272.83 1281.86 1286.04 1295.76 1306.17 1317.26 1326.98 1336.7 1340.88" y="304.20" font-size="12.35" font-weight="bold" fill="#16130f" stroke="#16130f" stroke-width="0.18">US GIFT SHOPS &amp;</text>
<text transform="scale(0.6326 1)" x="1211.31 1221.23 1231.14 1241.06 1250.97 1254.95 1264.21 1272.82 1283.39 1293.3 1302.57" y="315.40" font-size="11.77" font-weight="bold" fill="#16130f" stroke="#16130f" stroke-width="0.17">CARD STORES</text>
<text transform="scale(0.6464 1)" x="1186.59 1197.95 1207.98 1218.02 1228.06 1237.44 1246.15 1250.18 1259.56 1264.3 1273.01" y="325.80" font-size="11.92" font-weight="bold" fill="#16130f" stroke="#16130f" stroke-width="0.17">MARKET SIZE</text>
<text transform="scale(0.7118 1)" x="1070.75 1076.95 1083.14 1089.33 1095.52" y="364.60" font-size="9.16" font-weight="bold" fill="#16130f" stroke="#16130f" stroke-width="0.13">2024:</text>
<text transform="scale(0.6270 1)" x="1215.63 1224.87 1234.11 1243.34 1248.78 1258.02 1262.63 1274.14 1279.58 1289.56 1299.55 1304.98 1317.25" y="376.50" font-size="13.66" font-weight="bold" fill="#16130f" stroke="#16130f" stroke-width="0.20">$22.9 BILLION</text>
<text transform="scale(0.7118 1)" x="1070.75 1076.95 1083.14 1089.33 1095.52" y="391.20" font-size="9.16" font-weight="bold" fill="#16130f" stroke="#16130f" stroke-width="0.13">2026:</text>
<text transform="scale(0.6270 1)" x="1215.63 1224.87 1234.11 1243.34 1248.78 1258.02 1262.63 1274.14 1279.58 1289.56 1299.55 1304.98 1317.25" y="403.10" font-size="13.66" font-weight="bold" fill="#16130f" stroke="#16130f" stroke-width="0.20">$23.9 BILLION</text>
<text transform="scale(0.6128 1)" x="1463.75 1473.25 1483.41 1493.57 1503.73 1513.89 1524.72 1529.52 1539.68 1550.51 1554.58" y="304.00" font-size="12.06" font-weight="bold" fill="#16130f" stroke="#16130f" stroke-width="0.17">PACKAGING &amp;</text>
<text transform="scale(0.6396 1)" x="1402.47 1411.74 1421.65 1430.92 1440.19 1449.45 1459.37 1467.97 1477.89 1486.49 1491.17 1501.74 1511.66 1515.64 1524.9 1534.82 1544.08 1553.35 1563.92 1573.83" y="315.40" font-size="11.77" font-weight="bold" fill="#16130f" stroke="#16130f" stroke-width="0.17">PRESENTATION SUPPORT</text>
<text transform="scale(0.6346 1)" x="1381.28 1389.77 1396.67 1405.15 1413.11 1421.07 1427.97 1431.16 1439.65 1443.4 1450.31 1457.21 1460.41 1467.84 1475.8 1483.75 1491.71 1499.67 1508.15 1511.91 1519.86 1528.35 1531.54 1540.54 1548.5 1556.46 1564.41 1571.85" y="331.00" font-size="9.45" font-weight="bold" fill="#16130f" stroke="#16130f" stroke-width="0.13">GLOBAL GIFT PACKAGING MARKET</text>
<text transform="scale(0.9424 1)" x="930.15 936.55 939.79 945.74 952.15 954.9 958.58 964.09 969.59 975.1 980.6" y="339.50" font-size="8.14" font-weight="bold" fill="#16130f" stroke="#16130f" stroke-width="0.12">SIZE (2024)</text>
<text transform="scale(0.6602 1)" x="1327.84 1336.49 1345.14 1353.79 1358.88 1367.53 1371.85 1382.62 1387.71 1397.05 1406.4 1411.49 1422.98" y="351.40" font-size="12.79" font-weight="bold" fill="#16130f" stroke="#16130f" stroke-width="0.18">$24.2 BILLION</text>
<text transform="scale(0.6346 1)" x="1381.28 1389.77 1396.67 1405.15 1413.11 1421.07 1427.97 1431.16 1439.65 1443.4 1450.31 1457.21 1460.41 1467.84 1475.8 1483.75 1491.71 1499.67 1508.15 1511.91 1519.86 1528.35 1531.54 1540.54 1548.5 1556.46 1564.41 1571.85" y="366.70" font-size="9.45" font-weight="bold" fill="#16130f" stroke="#16130f" stroke-width="0.13">GLOBAL GIFT PACKAGING MARKET</text>
<text transform="scale(0.7666 1)" x="1143.45 1149.4 1156.71 1163.56 1169.97 1176.82 1183.68 1190.09 1196.03 1198.78 1202.47 1207.97 1213.48 1218.98 1224.49" y="374.90" font-size="8.14" font-weight="bold" fill="#16130f" stroke="#16130f" stroke-width="0.12">FORECAST (2033)</text>
<text transform="scale(0.6602 1)" x="1327.84 1336.49 1345.14 1353.79 1358.88 1367.53 1371.85 1382.62 1387.71 1397.05 1406.4 1411.49 1422.98" y="386.80" font-size="12.79" font-weight="bold" fill="#16130f" stroke="#16130f" stroke-width="0.18">$32.7 BILLION</text>
<text transform="scale(0.6416 1)" x="1366.21 1374.69 1381.6 1390.08 1398.04 1405.99 1412.9 1416.09 1424.57 1428.33 1435.24 1442.14 1445.33 1455.38 1463.34 1471.3 1478.73 1486.17 1489.93 1497.88" y="402.00" font-size="9.45" font-weight="bold" fill="#16130f" stroke="#16130f" stroke-width="0.13">GLOBAL GIFT WRAPPING</text>
<text transform="scale(0.7636 1)" x="1147.95 1154.35 1161.21 1168.52 1175.37 1182.23 1189.08 1195.03 1201.44 1204.19 1211.94 1218.8 1225.65 1232.51 1238.91 1244.86 1247.61 1254.02 1257.26 1263.2 1269.61 1272.36 1276.05 1281.55 1287.06 1292.56 1298.06" y="410.60" font-size="8.14" font-weight="bold" fill="#16130f" stroke="#16130f" stroke-width="0.12">PRODUCTS MARKET SIZE (2023)</text>
<text transform="scale(0.6698 1)" x="1308.71 1317.36 1326.01 1334.66 1339.75 1348.4 1357.05 1361.37 1372.14 1377.23 1386.57 1395.92 1401.01 1412.5" y="422.40" font-size="12.79" font-weight="bold" fill="#16130f" stroke="#16130f" stroke-width="0.18">$18.02 BILLION</text>
<text transform="scale(0.6244 1)" x="981.5 989.05 997.13 1005.21 1012.22 1016.03 1023.58" y="514.80" font-size="9.59" font-weight="bold" fill="#f0eedd" stroke="#f0eedd" stroke-width="0.14">EARLIER</text>
<text transform="scale(0.6460 1)" x="915.03 922.7 930.36 938.56 946.23 954.97 963.17 971.37 978.49 981.78 989.98 997.64 1006.93 1015.13 1023.33" y="523.70" font-size="9.74" font-weight="bold" fill="#f0eedd" stroke="#f0eedd" stroke-width="0.14">SEASONAL DEMAND</text>
<text transform="scale(0.6529 1)" x="1048 1057.14 1065.75 1073.83 1077.65 1084.66 1092.21 1096.55 1103.57 1107.38 1115.46 1123.01" y="514.80" font-size="9.59" font-weight="bold" fill="#f0eedd" stroke="#f0eedd" stroke-width="0.14">MOBILE-FIRST</text>
<text transform="scale(0.6451 1)" x="1078.89 1087.64 1091.51 1098.63 1105.75 1109.62 1117.82" y="523.70" font-size="9.74" font-weight="bold" fill="#f0eedd" stroke="#f0eedd" stroke-width="0.14">GIFTING</text>
<text transform="scale(0.6963 1)" x="1095.49 1102.69 1110.41 1117.61 1126.34 1129.98 1137.69 1146.42 1149.51 1157.23 1164.94 1172.14 1179.86 1187.06 1193.75 1200.96 1204.05" y="514.50" font-size="9.16" font-weight="bold" fill="#f0eedd" stroke="#f0eedd" stroke-width="0.13">PREMIUM BASKETS &amp;</text>
<text transform="scale(0.6694 1)" x="1137.35 1142.79 1149.48 1157.19 1164.9 1172.62 1179.82 1182.92 1190.63 1197.83 1203.28 1206.37 1214.08 1221.29 1229 1236.71 1243.92 1247.56 1255.78" y="523.30" font-size="9.16" font-weight="bold" fill="#f0eedd" stroke="#f0eedd" stroke-width="0.13">&quot;TRADE UP&quot; BEHAVIOR</text>
<text transform="scale(0.6662 1)" x="1310.12 1318.2 1322.02 1326.36 1334.44 1342.52 1346.34 1353.89 1361.44" y="514.80" font-size="9.59" font-weight="bold" fill="#f0eedd" stroke="#f0eedd" stroke-width="0.14">AI-DRIVEN</text>
<text transform="scale(0.6386 1)" x="1363.16 1371.36 1375.24 1382.9 1391.1 1399.84 1407.51 1415.17 1423.37" y="523.70" font-size="9.74" font-weight="bold" fill="#f0eedd" stroke="#f0eedd" stroke-width="0.14">DISCOVERY</text>
<text transform="scale(0.6706 1)" x="1412.18 1420.13 1428.09 1435.53 1442.43 1445.62 1453.58 1461.01 1464.21 1472.16" y="514.80" font-size="9.45" font-weight="bold" fill="#f0eedd" stroke="#f0eedd" stroke-width="0.13">BNPL AS AN</text>
<text transform="scale(0.6371 1)" x="1490.02 1497.98 1506.46 1513.9 1517.09 1523.99 1531.43 1538.86 1546.3" y="523.70" font-size="9.45" font-weight="bold" fill="#f0eedd" stroke="#f0eedd" stroke-width="0.13">AOV LEVER</text>
<g transform="translate(615.9 90.1) scale(1.0)" fill="none" stroke="#1d1a15" stroke-width="1.35" stroke-linecap="round" stroke-linejoin="round"><circle cx="0" cy="10.5" r="6.1"/><circle cx="0" cy="25.2" r="9.6"/><path d="M-3.7 0 H4.1 L5.3 6.1 H-5 Z" fill="#f3ead5"/><path d="M-6 6.1 H6.4"/><path d="M-5.6 14 Q0 17.6 5.6 14 M-6.2 15.8 Q0 19.6 6.2 15.8"/><path d="M-8.4 18.2 L-13 15 M-13 15 L-13.6 12.2 M-13 15 L-15.8 14.6 M-11.6 16.1 L-12.6 13.4"/><path d="M8.4 18.2 L13 15 M13 15 L13.6 12.2 M13 15 L15.8 14.6 M11.6 16.1 L12.6 13.4"/></g><g transform="translate(615.9 90.1) scale(1.0)" fill="#1d1a15"><circle cx="-2.4" cy="9.4" r="0.85"/><circle cx="2.4" cy="9.4" r="0.85"/><path d="M0 11.2 L1.6 13 L-0.6 13.2Z"/><circle cx="0" cy="22.4" r="0.7"/><circle cx="0" cy="25.4" r="0.7"/><circle cx="0" cy="28.4" r="0.7"/></g>
<g transform="translate(43.9 334.9) scale(1.0)" fill="none" stroke="#1d1a15" stroke-width="1.35" stroke-linecap="round" stroke-linejoin="round"><circle cx="0" cy="10.5" r="6.1"/><circle cx="0" cy="25.2" r="9.6"/><path d="M-3.7 0 H4.1 L5.3 6.1 H-5 Z" fill="#f3ead5"/><path d="M-6 6.1 H6.4"/><path d="M-5.6 14 Q0 17.6 5.6 14 M-6.2 15.8 Q0 19.6 6.2 15.8"/><path d="M-8.4 18.2 L-13 15 M-13 15 L-13.6 12.2 M-13 15 L-15.8 14.6 M-11.6 16.1 L-12.6 13.4"/><path d="M8.4 18.2 L13 15 M13 15 L13.6 12.2 M13 15 L15.8 14.6 M11.6 16.1 L12.6 13.4"/></g><g transform="translate(43.9 334.9) scale(1.0)" fill="#1d1a15"><circle cx="-2.4" cy="9.4" r="0.85"/><circle cx="2.4" cy="9.4" r="0.85"/><path d="M0 11.2 L1.6 13 L-0.6 13.2Z"/><circle cx="0" cy="22.4" r="0.7"/><circle cx="0" cy="25.4" r="0.7"/><circle cx="0" cy="28.4" r="0.7"/></g>
<g transform="translate(822.2 89.9) scale(1.0)" fill="none" stroke="#1d1a15" stroke-width="1.3" stroke-linecap="round" stroke-linejoin="round"><rect x="0" y="0" width="19.4" height="33.7" rx="2.4"/><path d="M0 4.5 H19.4 M0 27.6 H19.4 M7 2.3 H12"/><circle cx="9.6" cy="30.7" r="0.6"/><rect x="9.8" y="8.6" width="21.8" height="15" rx="1.8" fill="#f3ead5"/><path d="M9.8 11.8 H31.6 M9.8 14.6 H31.6 M12.6 20.4 H18.6"/><rect x="25.4" y="18.8" width="3.8" height="2.6" rx="1.3"/></g>
<g transform="translate(311.4 334.9) scale(1.05)" fill="none" stroke="#1d1a15" stroke-width="1.3" stroke-linecap="round" stroke-linejoin="round"><rect x="0" y="0" width="19.4" height="33.7" rx="2.4"/><path d="M0 4.5 H19.4 M0 27.6 H19.4 M7 2.3 H12"/><circle cx="9.6" cy="30.7" r="0.6"/><rect x="9.8" y="8.6" width="21.8" height="15" rx="1.8" fill="#f8f3e6"/><path d="M9.8 11.8 H31.6 M9.8 14.6 H31.6 M12.6 20.4 H18.6"/><rect x="25.4" y="18.8" width="3.8" height="2.6" rx="1.3"/></g>
<g fill="none" stroke="#1d1a15" stroke-width="1.3" stroke-linecap="round" stroke-linejoin="round"><path d="M56.1 341.3 H59.8 L63.6 359.3"/><path d="M61.3 345.4 H83.9 L82 356.7 H63.5"/><path d="M62.2 349.2 H83.3 M62.9 353 H82.6 M66.8 345.4 V356.7 M72.5 345.4 V356.7 M78.2 345.4 V356.7"/><path d="M62.8 361.2 H80.9"/><circle cx="65.5" cy="365" r="1.8"/><circle cx="78.6" cy="365" r="1.8"/></g>
<g fill="none" stroke="#1d1a15" stroke-width="1.35" stroke-linecap="round" stroke-linejoin="round"><path d="M787.2 330.6 H807.5 L810.3 336.6 H784.3 Z"/><path d="M784.3 336.6 Q784.3 339.2 786.6 339.2 Q788.9 339.2 789 337 Q789.2 339.2 791.6 339.2 Q794 339.2 794.2 337 Q794.4 339.2 796.8 339.2 Q799.2 339.2 799.4 337 Q799.6 339.2 802 339.2 Q804.4 339.2 804.6 337 Q804.8 339.2 807.4 339.2 Q810.3 339.2 810.3 336.6"/><path d="M786.3 339.2 V352.9 M808.3 339.2 V352.9 M784.3 352.9 H810.8"/><path d="M788.9 352.9 V342.6 H794.3 V352.9"/><rect x="796.9" y="342.6" width="8.9" height="6.9"/></g>
<g fill="none" stroke="#1d1a15" stroke-width="1.25" stroke-linecap="round" stroke-linejoin="round"><rect x="598.6" y="295" width="15.8" height="2.9"/><path d="M599.9 297.9 V303.4 H613.1 V297.9 M606.5 295 V303.4"/><path d="M606.5 295 C603 290 599.5 290.5 600.5 293 C601.5 295 604.5 295 606.5 295 C608.5 295 611.5 295 612.5 293 C613.5 290.5 610 290 606.5 295"/><path d="M592 312.6 L596.6 301.8 L600 303.3 L595.3 314 Z"/><path d="M621 310.8 L616 300.6 L612.7 302.2 L617.6 312.3 Z"/><path d="M598 305 L603 303.5 L607 304.5 L603 307.5 Q601.5 309 603 309.5 L608 306.5 L614.5 304"/><path d="M596.3 312.4 L601 316.4 Q603 318 605 316.6 L611.5 312.5 Q613.5 311 615.8 310.4"/><path d="M603 313 L606 315.5 M605.5 311 L608.5 313.5 M608 309.5 L610.8 311.5"/></g>
<g fill="none" stroke="#1d1a15" stroke-width="1.3" stroke-linecap="round" stroke-linejoin="round"><rect x="867.2" y="299.9" width="23.9" height="4.2" rx="0.8"/><path d="M868.4 304.1 V317.8 H890 V304.1"/><path d="M877.5 299.9 V317.8 M880.9 299.9 V317.8"/><path d="M879.2 298.5 C875 292 869 292 870.2 296.5 C871 299 875.5 299 879.2 298.5 C883 299 887.5 299 888.2 296.5 C889.4 292 883.4 292 879.2 298.5"/><path d="M878.5 299 L873.5 306.5 M880 299 L884.8 306.5"/></g>
<g fill="none" stroke="#e7e9d9" stroke-width="1.35" stroke-linecap="round" stroke-linejoin="round"><path d="M630 497.5 H614.6 Q612.1 497.5 612.1 495 V475.7 Q612.1 473.2 614.6 473.2 H638.5 Q641 473.2 641 475.7 V486"/><path d="M612.1 479.2 H641"/><rect x="617.6" y="471" width="2.8" height="4.6" rx="1.4"/><rect x="632.4" y="471" width="2.8" height="4.6" rx="1.4"/><circle cx="637.5" cy="494.3" r="7.2"/><path d="M637.5 490.3 V495.5 H641"/></g>
<g fill="#e7e9d9"><circle cx="618.5" cy="483.2" r="1.35"/><circle cx="623.7" cy="483.2" r="1.35"/><circle cx="629" cy="483.2" r="1.35"/><circle cx="634.3" cy="483.2" r="1.35"/><circle cx="618.5" cy="488.2" r="1.35"/><circle cx="623.7" cy="488.2" r="1.35"/><circle cx="629" cy="488.2" r="1.35"/><circle cx="618.5" cy="492.8" r="1.35"/><circle cx="623.7" cy="492.8" r="1.35"/></g>
<g fill="none" stroke="#e7e9d9" stroke-width="1.35" stroke-linecap="round" stroke-linejoin="round"><rect x="701.4" y="470.3" width="18.6" height="30.8" rx="2.6"/><path d="M701.4 474.2 H720 M701.4 496.4 H720 M708.2 472.3 H711.2"/><path d="M714.3 479.6 H726 Q727.5 479.6 727.5 481.1 V488.5 Q727.5 490 726 490 H718.5 L715.8 492.6 L715.8 490 Q714.3 490 714.3 488.5 Z" fill="#385c40"/><path d="M716.6 482.3 L717.6 485 H724 L725.2 482.3 M718 487.3 H723.6"/></g>
<g fill="none" stroke="#e7e9d9" stroke-width="1.35" stroke-linecap="round" stroke-linejoin="round"><path d="M786.8 488.5 Q785.8 488.5 785.8 490 Q785.8 491.5 786.8 491.5 H818.8 Q819.8 491.5 819.8 490 Q819.8 488.5 818.8 488.5 Z"/><path d="M787.5 491.5 L790.6 502 H815 L818 491.5"/><path d="M788.5 474.5 L792 472.6 L794.6 478 L791 479.8 Z M791 479.8 L789.5 482 Q789 484.5 790 488.5 M794.6 478 L796.5 482 Q797 485 796.6 488.5"/><rect x="797.5" y="479" width="9.8" height="9.5" rx="1"/><path d="M797.5 482 H807.3"/><path d="M802.4 479 L799.2 475.2 M802.4 479 L805.6 475.2"/><path d="M814.8 472 L816.8 472.8 L815.2 478 Q818 480.5 817 484.5 L815.8 488.5 H808.5 L809 484 Q810 479.5 813.4 477.4 Z"/></g>
<g fill="none" stroke="#e7e9d9" stroke-width="1.4" stroke-linecap="round" stroke-linejoin="round"><path d="M902.8 501.4 L902 494.5 C901.5 489 907.5 484 907.2 476 C906.8 468.5 899.5 469.2 894.8 469.3 C885 469.5 880 476 879.4 482.5 L876.8 487.8 L879.6 489.6 L879.2 492 L880.5 494.5 L880 496.6 C881.5 497.6 886.5 497.3 887.8 498.6 L888.1 501.8"/><path d="M884.8 480.5 C882.5 477 886 474.2 889 475 C890.5 472.6 895.5 472.6 897 474.4 C900.5 473.6 903.8 476.5 902.8 479.5 C905 481.5 903.5 485.5 900.5 485.2 C899 487.5 895 487.5 893.5 485.8 C891 487.5 887 486.5 886.8 484.2 C884.5 484 883.5 482 884.8 480.5 Z"/><path d="M888.5 479 Q891 477.5 893 479.5 M894.5 477 Q897 476.5 898.5 478.5 M890 482.5 Q893 481 895.5 483 M897 481 Q899.5 480.5 901 482.5"/><path d="M895.2 486.5 V491.5 M897.2 486.5 V491.5"/></g>
<g fill="none" stroke="#e7e9d9" stroke-width="1.35" stroke-linecap="round" stroke-linejoin="round"><rect x="949.7" y="471.3" width="29.7" height="19.3" rx="2"/><path d="M949.7 475.2 H979.4 M949.7 479.4 H979.4 M953.5 485.5 H958"/><rect x="960.5" y="484.1" width="29" height="18.3" rx="2.2" fill="#385c40"/></g>
<text transform="scale(0.6522 1)" x="1477.25 1486.67 1496.1 1504.9" y="497.10" font-size="11.19" font-weight="bold" fill="#e7e9d9" stroke="#e7e9d9" stroke-width="0.16">BNPL</text>
<path d="M983 501 Q985.5 514.5 1001.5 517 Q985.5 519.5 983 533 Q980.5 519.5 964.5 517 Q980.5 514.5 983 501 Z" fill="#c9d3c2" opacity="0.75"/>
</svg></body></html>
